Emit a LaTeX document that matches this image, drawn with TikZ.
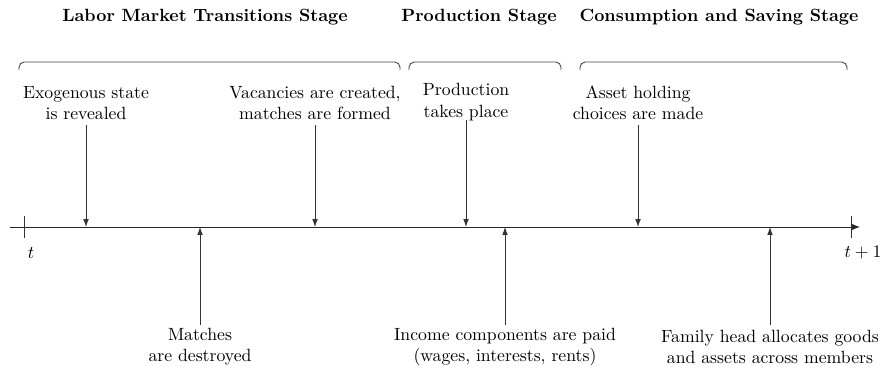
\documentclass[tikz,border=0pt]{standalone}
\usetikzlibrary{arrows.meta}
\begin{document}
\begin{tikzpicture}[x=0.565pt,y=-0.565pt,
  lbl/.style={align=center,font=\normalsize,inner sep=0pt},
  hdr/.style={font=\bfseries,inner sep=0pt},
  evarrow/.style={draw=black!80,line width=0.45pt,-{Latex[length=4.5pt,width=3.2pt]}},
  bracepath/.style={draw=black!75,line width=0.5pt,rounded corners=3pt},
  tickmark/.style={draw=black!80,line width=0.5pt}]
\useasboundingbox (0,0) rectangle (885,368);
% headings
\node[hdr] (h1) at (205,17) {Labor Market Transitions Stage};
\node[hdr] (h2) at (479,17) {Production Stage};
\node[hdr] (h3) at (719,17) {Consumption and Saving Stage};
% braces
\draw[bracepath] (19,70) -- (19,62) -- (400,62) -- (400,70);
\draw[bracepath] (409,70) -- (409,62) -- (561,62) -- (561,70);
\draw[bracepath] (580,70) -- (580,62) -- (847,62) -- (847,70);
% axis
\coordinate (axL) at (10,227);
\coordinate (axR) at (860,227);
\draw[draw=black!85,line width=0.5pt,-{Latex[length=5pt,width=4pt]}] (axL) -- (axR);
\coordinate (t0a) at (24,216); \coordinate (t0b) at (24,238);
\coordinate (t1a) at (851,216); \coordinate (t1b) at (851,238);
\draw[tickmark] (t0a) -- (t0b);
\draw[tickmark] (t1a) -- (t1b);
\node[inner sep=0pt] (tl) at (31,253) {$t$};
\node[inner sep=0pt] (t1l) at (863,253) {$t+1$};
% top events
\node[lbl] (e1) at (86,103) {Exogenous state\\is revealed};
\node[lbl] (e2) at (315,103) {Vacancies are created,\\matches are formed};
\node[lbl] (e3) at (466,102) {Production\\takes place};
\node[lbl] (e4) at (638,103) {Asset holding\\choices are made};
\coordinate (s1) at (86,125); \coordinate (a1) at (86,227);
\coordinate (s2) at (315,125); \coordinate (a2) at (315,227);
\coordinate (s3) at (466,120); \coordinate (a3) at (466,227);
\coordinate (s4) at (638,125); \coordinate (a4) at (638,227);
\draw[evarrow] (s1) -- (a1);
\draw[evarrow] (s2) -- (a2);
\draw[evarrow] (s3) -- (a3);
\draw[evarrow] (s4) -- (a4);
% bottom events
\node[lbl] (b1) at (200,347) {Matches\\are destroyed};
\node[lbl] (b2) at (505,347) {Income components are paid\\(wages, interests, rents)};
\node[lbl] (b3) at (770,347) {Family head allocates goods\\and assets across members};
\coordinate (u1) at (200,325); \coordinate (c1) at (200,227);
\coordinate (u2) at (505,325); \coordinate (c2) at (505,227);
\coordinate (u3) at (770,325); \coordinate (c3) at (770,227);
\draw[evarrow] (u1) -- (c1);
\draw[evarrow] (u2) -- (c2);
\draw[evarrow] (u3) -- (c3);
\end{tikzpicture}
\end{document}
